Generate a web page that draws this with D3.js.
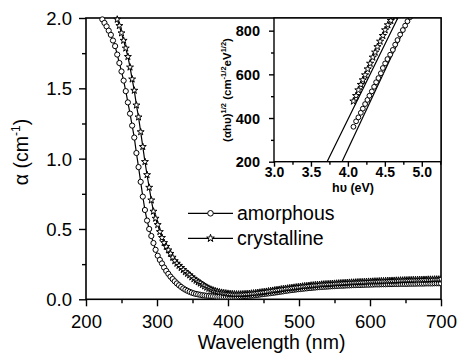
<!DOCTYPE html>
<html>
<head>
<meta charset="utf-8">
<script src="https://cdn.jsdelivr.net/npm/d3@7"></script>
<style>
  body { margin: 0; background: #fff; }
  svg { display: block; font-family: "Liberation Sans", Arial, sans-serif; }
</style>
</head>
<body>
<svg id="chart" width="458" height="353"></svg>
<script>
// main panel: absorption vs wavelength, 3 nm grid
const wavelength = [
  202,205,208,211,214,217,220,223,226,229,
  232,235,238,241,244,247,250,253,256,259,
  262,265,268,271,274,277,280,283,286,289,
  292,295,298,301,304,307,310,313,316,319,
  322,325,328,331,334,337,340,343,346,349,
  352,355,358,361,364,367,370,373,376,379,
  382,385,388,391,394,397,400,403,406,409,
  412,415,418,421,424,427,430,433,436,439,
  442,445,448,451,454,457,460,463,466,469,
  472,475,478,481,484,487,490,493,496,499,
  502,505,508,511,514,517,520,523,526,529,
  532,535,538,541,544,547,550,553,556,559,
  562,565,568,571,574,577,580,583,586,589,
  592,595,598,601,604,607,610,613,616,619,
  622,625,628,631,634,637,640,643,646,649,
  652,655,658,661,664,667,670,673,676,679,
  682,685,688,691,694,697,700
];

const alphaAmorphous = [
  null,null,null,null,null,null,null,1.99,1.965,1.94,
  1.91,1.88,1.84,1.80,1.74,1.68,1.62,1.555,1.48,1.40,
  1.32,1.235,1.15,1.04,0.94,0.835,0.73,0.635,0.56,0.50,
  0.45,0.40,0.352,0.31,0.28,0.255,0.226,0.202,0.181,0.161,
  0.144,0.128,0.113,0.10,0.088,0.077,0.068,0.06,0.053,0.047,
  0.042,0.038,0.035,0.032,0.029,0.027,0.025,0.023,0.022,0.021,
  0.020,0.019,0.019,0.018,0.018,0.018,0.018,0.018,0.018,0.019,
  0.019,0.020,0.021,0.022,0.023,0.024,0.025,0.027,0.028,0.030,
  0.032,0.034,0.036,0.038,0.040,0.042,0.044,0.046,0.048,0.050,
  0.053,0.055,0.057,0.060,0.062,0.064,0.066,0.068,0.070,0.072,
  0.073,0.075,0.077,0.078,0.080,0.081,0.083,0.084,0.086,0.087,
  0.088,0.089,0.090,0.091,0.092,0.093,0.094,0.095,0.096,0.097,
  0.097,0.098,0.099,0.099,0.100,0.101,0.101,0.102,0.102,0.103,
  0.103,0.104,0.104,0.105,0.105,0.106,0.106,0.106,0.107,0.107,
  0.107,0.108,0.108,0.108,0.109,0.109,0.109,0.110,0.110,0.110,
  0.110,0.111,0.111,0.111,0.111,0.112,0.112,0.112,0.112,0.113,
  0.113,0.113,0.113,0.114,0.114,0.114,0.114
];

const alphaCrystalline = [
  null,null,null,null,null,null,null,null,null,null,
  null,null,null,null,1.99,1.945,1.893,1.84,1.785,1.725,
  1.65,1.565,1.485,1.38,1.295,1.19,1.085,0.978,0.885,0.795,
  0.705,0.625,0.575,0.53,0.48,0.438,0.402,0.375,0.350,0.325,
  0.298,0.273,0.255,0.24,0.225,0.21,0.195,0.183,0.172,0.158,
  0.145,0.134,0.123,0.114,0.104,0.094,0.085,0.077,0.070,0.064,
  0.059,0.055,0.051,0.048,0.045,0.043,0.041,0.039,0.038,0.037,
  0.036,0.036,0.036,0.037,0.038,0.039,0.040,0.042,0.043,0.045,
  0.047,0.049,0.051,0.053,0.055,0.058,0.060,0.062,0.065,0.067,
  0.069,0.072,0.074,0.076,0.078,0.080,0.082,0.084,0.086,0.088,
  0.090,0.092,0.094,0.095,0.097,0.099,0.100,0.102,0.103,0.104,
  0.106,0.107,0.108,0.109,0.110,0.111,0.112,0.113,0.114,0.115,
  0.116,0.117,0.118,0.119,0.120,0.120,0.121,0.122,0.123,0.123,
  0.124,0.125,0.126,0.126,0.127,0.128,0.128,0.129,0.130,0.130,
  0.131,0.132,0.132,0.133,0.133,0.134,0.134,0.135,0.135,0.136,
  0.136,0.137,0.137,0.138,0.138,0.139,0.139,0.139,0.140,0.140,
  0.141,0.141,0.141,0.142,0.142,0.142,0.143
];

const xTicks = [200, 300, 400, 500, 600, 700];
const xMinor = [250, 350, 450, 550, 650];
const yTicks = [0.0, 0.5, 1.0, 1.5, 2.0];
const yMinor = [0.25, 0.75, 1.25, 1.75];

// inset: Tauc plot
const insetAmorphousEv = [4.075,4.111,4.142,4.175,4.202,4.233,4.264,4.291,4.324,4.355,4.382,4.413,4.446,4.473,4.504,4.535,4.572,4.608,4.640,4.671,4.707,4.744,4.775,4.806,4.843];
const insetAmorphousVal = [360,385,403,424,443,464,483,502,522,543,564,583,605,629,650,670,690,712,736,757,782,803,823,843,862];
const insetCrystallineEv = [4.075,4.111,4.142,4.175,4.202,4.233,4.268,4.301,4.337,4.369,4.400,4.436,4.473,4.504,4.541,4.581,4.640];
const insetCrystallineVal = [477,502,528,553,574,597,624,650,678,701,726,751,777,803,826,846,866];
const fitAmorphousEv = [3.92, 4.85];
const fitAmorphousVal = [200, 870];
const fitCrystallineEv = [3.39, 3.72, 4.69];
const fitCrystallineVal = [201, 201, 868];

const insetXTicks = [3.0, 3.5, 4.0, 4.5, 5.0];
const insetXMinor = [3.25, 3.75, 4.25, 4.75, 5.25];
const insetYTicks = [200, 400, 600, 800];
const insetYMinor = [300, 500, 700];

const svg = d3.select('#chart');
const font = '"Liberation Sans", Arial, sans-serif';

const plot = { left: 86, right: 441, top: 18, bottom: 299.3 };
const x = d3.scaleLinear().domain([200, 700]).range([plot.left, plot.right]);
const y = d3.scaleLinear().domain([0, 2]).range([plot.bottom, plot.top]);

const clip = svg.append('clipPath').attr('id', 'mainClip')
  .append('rect')
  .attr('x', plot.left).attr('y', plot.top - 3)
  .attr('width', plot.right - plot.left).attr('height', plot.bottom - plot.top + 3);

// axes
const styleAxis = (g) => {
  g.select('.domain').remove();
  g.selectAll('line').attr('stroke', '#000').attr('stroke-width', 1.4);
};

svg.append('g')
  .attr('transform', `translate(0,${plot.bottom})`)
  .call(d3.axisBottom(x).tickValues(xMinor).tickSize(4).tickFormat(''))
  .call(styleAxis);

svg.append('g')
  .attr('transform', `translate(0,${plot.bottom})`)
  .call(d3.axisBottom(x).tickValues(xTicks).tickSize(7).tickPadding(9))
  .call(styleAxis)
  .call(g => g.selectAll('text')
    .attr('font-family', font).attr('font-size', 18.5).attr('fill', '#000')
    .attr('y', 29.2).attr('dy', 0));

svg.append('g')
  .attr('transform', `translate(${plot.left},0)`)
  .call(d3.axisLeft(y).tickValues(yMinor).tickSize(4).tickFormat(''))
  .call(styleAxis);

svg.append('g')
  .attr('transform', `translate(${plot.left},0)`)
  .call(d3.axisLeft(y).tickValues(yTicks).tickSize(7).tickPadding(7).tickFormat(d3.format('.1f')))
  .call(styleAxis)
  .call(g => g.selectAll('text')
    .attr('font-family', font).attr('font-size', 18.5).attr('fill', '#000')
    .attr('dy', '0.36em'));

// frame
svg.append('rect')
  .attr('x', plot.left).attr('y', plot.top)
  .attr('width', plot.right - plot.left).attr('height', plot.bottom - plot.top)
  .attr('fill', 'none').attr('stroke', '#000').attr('stroke-width', 1.6);

// titles
svg.append('text')
  .attr('x', (plot.left + plot.right) / 2 + 8).attr('y', 349)
  .attr('text-anchor', 'middle')
  .attr('font-size', 19.5)
  .text('Wavelength (nm)');

const yTitle = svg.append('text')
  .attr('transform', 'translate(28,152) rotate(-90)')
  .attr('text-anchor', 'middle')
  .attr('font-size', 19.5);
yTitle.append('tspan').text('α (cm');
yTitle.append('tspan').attr('font-size', 12).attr('dy', -8).text('-1');
yTitle.append('tspan').attr('dy', 8).text(')');

// curves
const mainSeries = [
  { name: 'amorphous', values: alphaAmorphous, marker: 'circle' },
  { name: 'crystalline', values: alphaCrystalline, marker: 'star' }
];

const line = d3.line()
  .defined(d => d[1] != null)
  .x(d => x(d[0])).y(d => y(d[1]));

const starPath = (size) => d3.symbol(d3.symbolStar, size)();

const drawMarker = (g, type, cx, cy, r, starSize) => {
  if (type === 'circle') {
    g.append('circle').attr('cx', cx).attr('cy', cy).attr('r', r)
      .attr('fill', '#fff').attr('stroke', '#000').attr('stroke-width', 1);
  } else {
    g.append('path').attr('d', starPath(starSize))
      .attr('transform', `translate(${cx},${cy})`)
      .attr('fill', '#fff').attr('stroke', '#000').attr('stroke-width', 1);
  }
};

const curves = svg.append('g').attr('clip-path', 'url(#mainClip)');

mainSeries.forEach(s => {
  const pts = wavelength.map((w, i) => [w, s.values[i]]);
  curves.append('path')
    .datum(pts)
    .attr('d', line)
    .attr('fill', 'none').attr('stroke', '#000').attr('stroke-width', 1.2);
  const mg = curves.append('g');
  pts.filter(d => d[1] != null).forEach(d => {
    drawMarker(mg, s.marker, x(d[0]), y(d[1]), 2.6, 15);
  });
});

// legend
const legend = [
  { name: 'amorphous', marker: 'circle', y: 213.3 },
  { name: 'crystalline', marker: 'star', y: 238.3 }
];
legend.forEach(l => {
  const g = svg.append('g');
  g.append('line').attr('x1', 188).attr('x2', 233).attr('y1', l.y).attr('y2', l.y)
    .attr('stroke', '#000').attr('stroke-width', 1.3);
  drawMarker(g, l.marker, 210.5, l.y, 2.8, 18);
  g.append('text').attr('x', 237).attr('y', l.y + 6.5)
    .attr('font-size', 19.5).text(l.name);
});

// inset
const inset = { left: 274, right: 441, top: 18, bottom: 161.7 };
const ix = d3.scaleLinear().domain([3.0, 5.26]).range([inset.left, inset.right]);
const iy = d3.scaleLinear().domain([200, 858]).range([inset.bottom, inset.top]);

svg.append('rect')
  .attr('x', inset.left).attr('y', inset.top)
  .attr('width', inset.right - inset.left).attr('height', inset.bottom - inset.top)
  .attr('fill', '#fff');

svg.append('clipPath').attr('id', 'insetClip')
  .append('rect')
  .attr('x', inset.left).attr('y', inset.top)
  .attr('width', inset.right - inset.left).attr('height', inset.bottom - inset.top);

svg.append('g')
  .attr('transform', `translate(0,${inset.bottom})`)
  .call(d3.axisBottom(ix).tickValues(insetXMinor.filter(v => v < 5.26)).tickSize(3).tickFormat(''))
  .call(styleAxis);

svg.append('g')
  .attr('transform', `translate(0,${inset.bottom})`)
  .call(d3.axisBottom(ix).tickValues(insetXTicks).tickSize(5).tickFormat(d3.format('.1f')))
  .call(styleAxis)
  .call(g => g.selectAll('text')
    .attr('font-family', font).attr('font-size', 14).attr('font-weight', 'bold').attr('fill', '#000')
    .attr('y', 15).attr('dy', 0));

svg.append('g')
  .attr('transform', `translate(${inset.left},0)`)
  .call(d3.axisLeft(iy).tickValues(insetYMinor).tickSize(3).tickFormat(''))
  .call(styleAxis);

svg.append('g')
  .attr('transform', `translate(${inset.left},0)`)
  .call(d3.axisLeft(iy).tickValues(insetYTicks).tickSize(5).tickPadding(9))
  .call(styleAxis)
  .call(g => g.selectAll('text')
    .attr('font-family', font).attr('font-size', 14.5).attr('font-weight', 'bold').attr('fill', '#000')
    .attr('dy', '0.36em'));

const insetPlot = svg.append('g').attr('clip-path', 'url(#insetClip)');
const iline = d3.line().x(d => ix(d[0])).y(d => iy(d[1]));

[[fitAmorphousEv, fitAmorphousVal], [fitCrystallineEv, fitCrystallineVal]].forEach(([ev, v]) => {
  insetPlot.append('path')
    .datum(ev.map((e, i) => [e, v[i]]))
    .attr('d', iline)
    .attr('fill', 'none').attr('stroke', '#000').attr('stroke-width', 1.2);
});

const im = insetPlot.append('g');
insetAmorphousEv.forEach((e, i) => drawMarker(im, 'circle', ix(e), iy(insetAmorphousVal[i]), 2.4, 14));
insetCrystallineEv.forEach((e, i) => drawMarker(im, 'star', ix(e), iy(insetCrystallineVal[i]), 2.4, 16));

svg.append('rect')
  .attr('x', inset.left).attr('y', inset.top)
  .attr('width', inset.right - inset.left).attr('height', inset.bottom - inset.top)
  .attr('fill', 'none').attr('stroke', '#000').attr('stroke-width', 1.4);

svg.append('text')
  .attr('x', 353).attr('y', 192)
  .attr('text-anchor', 'middle')
  .attr('font-size', 12.5).attr('font-weight', 'bold')
  .text('hυ (eV)');

const iyTitle = svg.append('text')
  .attr('transform', 'translate(231,90) rotate(-90)')
  .attr('text-anchor', 'middle')
  .attr('font-size', 11.5).attr('font-weight', 'bold');
iyTitle.append('tspan').text('(αhυ)');
iyTitle.append('tspan').attr('font-size', 7.5).attr('dy', -5).text('1/2');
iyTitle.append('tspan').attr('dy', 5).text(' (cm');
iyTitle.append('tspan').attr('font-size', 7.5).attr('dy', -5).text('-1/2');
iyTitle.append('tspan').attr('dy', 5).text('eV');
iyTitle.append('tspan').attr('font-size', 7.5).attr('dy', -5).text('1/2');
iyTitle.append('tspan').attr('dy', 5).text(')');
</script>
</body>
</html>
